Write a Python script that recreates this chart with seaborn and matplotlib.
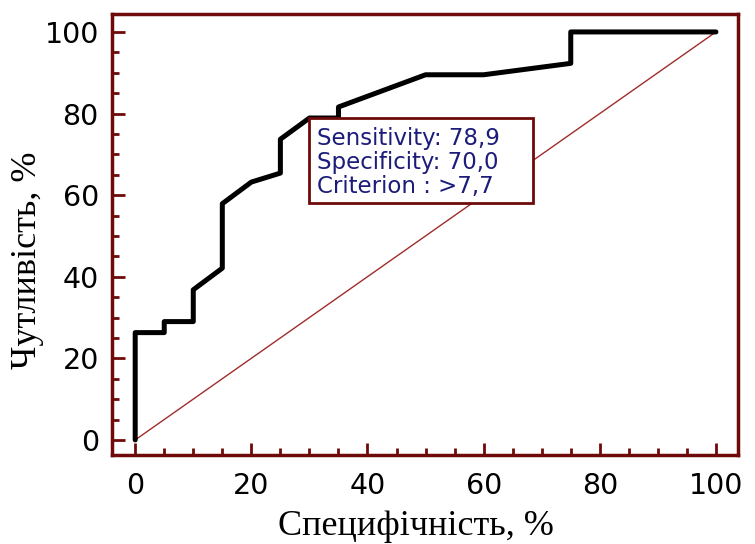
import matplotlib
matplotlib.use("Agg")
import matplotlib.pyplot as plt
import seaborn as sns
import pandas as pd
from matplotlib.patches import Rectangle
from matplotlib.ticker import MultipleLocator

# ROC curve points
specificity = [0, 0, 5, 5, 10, 10, 15, 15, 20, 25, 25, 30, 35, 35, 50, 60, 75, 75, 100]
sensitivity = [0, 26.3, 26.3, 29.0, 29.0, 36.8, 42.1, 57.9, 63.2, 65.4, 73.7, 78.9, 78.9, 81.6, 89.5, 89.5, 92.3, 100, 100]
diag_x = [0, 100]
diag_y = [0, 100]
ticks = [0, 20, 40, 60, 80, 100]
box_lines = ["Sensitivity: 78,9", "Specificity: 70,0", "Criterion : >7,7"]
box_corner = (30, 78.9)

sns.set_style("white")
plt.rcParams['font.family'] = ['DejaVu Sans']

frame_col = "#6e0a0a"
fig = plt.figure(figsize=(7.55, 5.44), dpi=100)
ax = fig.add_axes([0.1483, 0.1636, 0.9775 - 0.1483, 0.9743 - 0.1636])

roc = pd.DataFrame({"x": specificity, "y": sensitivity})
diag = pd.DataFrame({"x": diag_x, "y": diag_y})
sns.lineplot(data=diag, x="x", y="y", ax=ax, color="#a02c2c", linewidth=1.0,
             sort=False, estimator=None)
sns.lineplot(data=roc, x="x", y="y", ax=ax, color="black", linewidth=3.6,
             sort=False, estimator=None)

ax.set_xlim(-4, 103.8)
ax.set_ylim(-3.7, 104.4)
ax.set_xticks(ticks)
ax.set_yticks(ticks)
ax.xaxis.set_minor_locator(MultipleLocator(5))
ax.yaxis.set_minor_locator(MultipleLocator(5))
ax.tick_params(which="major", direction="in", length=9, width=2, color=frame_col,
               labelsize=20.5, labelcolor="black", pad=9.5,
               bottom=True, left=True, top=False, right=False)
ax.tick_params(axis="x", which="major", pad=12)
ax.tick_params(which="minor", direction="in", length=5, width=2, color=frame_col,
               bottom=True, left=True, top=False, right=False)
for sp in ax.spines.values():
    sp.set_color(frame_col)
    sp.set_linewidth(2.5)

serif = ["Liberation Serif", "DejaVu Serif"]
ax.set_xlabel("Специфічність, %", fontsize=26, family=serif, color="black")
ax.set_ylabel("Чутливість, %", fontsize=26, family=serif, color="black")
ax.xaxis.label.set_va("baseline")
ax.yaxis.label.set_va("baseline")
ax.xaxis.set_label_coords(0.485, -0.181)
ax.yaxis.set_label_coords(-0.122, 0.442)

# annotation box
bx0, by1 = box_corner
bw, bh = 38.5, 20.8
ax.add_patch(Rectangle((bx0, by1 - bh), bw, bh, facecolor="white", edgecolor=frame_col,
                       linewidth=2, zorder=5))
for i, line in enumerate(box_lines):
    ax.text(bx0 + 1.3, by1 - 4.9 - i * 6.0, line, fontsize=16.5, color="#1c1c7a",
            va="center", ha="left", zorder=6)

fig.savefig("out.png", dpi=100)
